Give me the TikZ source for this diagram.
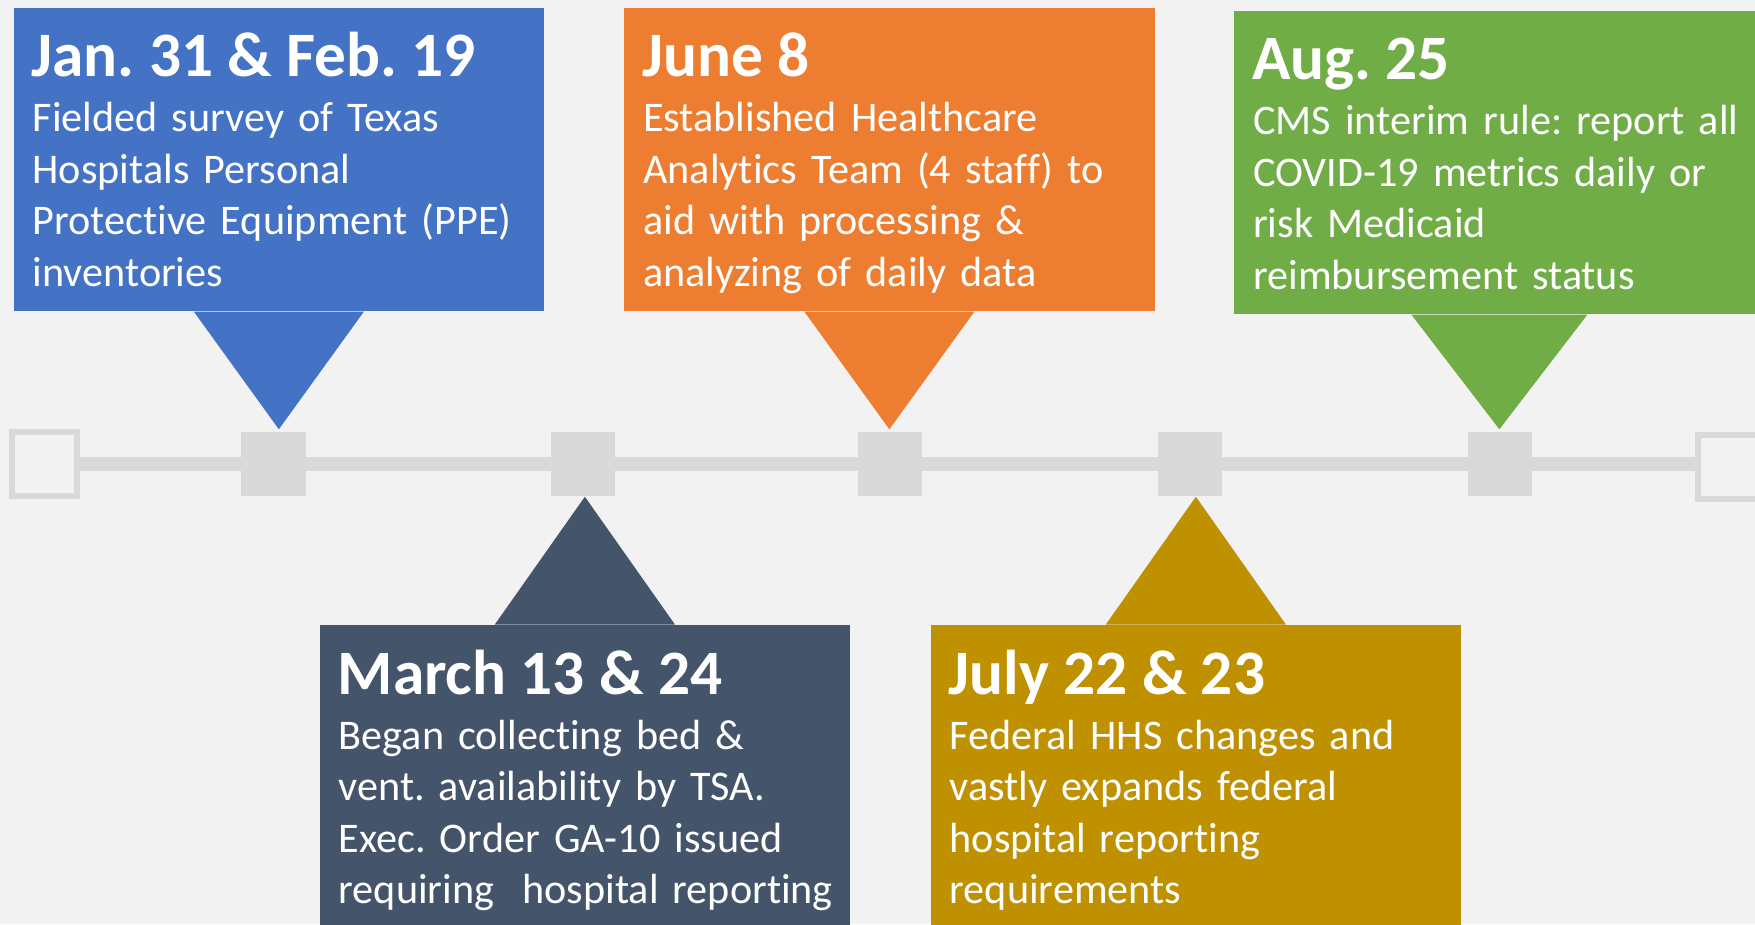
\documentclass[tikz,border=0pt]{standalone}
\usepackage{fontspec}
\setmainfont{Carlito}[Ligatures=NoCommon]
\usepackage{tikz}
\usetikzlibrary{calc}
\frenchspacing

\definecolor{bgray}{HTML}{F2F2F2}
\definecolor{tlgray}{HTML}{D9D9D9}
\definecolor{cblue}{HTML}{4472C4}
\definecolor{corange}{HTML}{ED7D31}
\definecolor{cgreen}{HTML}{70AD47}
\definecolor{cslate}{HTML}{44546A}
\definecolor{cgold}{HTML}{BF9000}

\newcommand{\descfont}{\fontsize{12}{14.65}\selectfont\fontdimen2\font=2.1pt\fontdimen3\font=0pt\fontdimen4\font=0pt}

\begin{document}
\begin{tikzpicture}[x=0.01cm, y=-0.01cm,
        callout/.style={rectangle, anchor=north west, inner sep=0, minimum width=5.3cm, minimum height=3.03cm},
        marker/.style={rectangle, fill=tlgray, inner sep=0, minimum size=0.64cm},
        endbox/.style={rectangle, draw=tlgray, line width=0.06cm, inner sep=0, minimum size=0.64cm},
        datelbl/.style={anchor=base west, inner sep=0, text=white, font=\fontsize{18}{22}\selectfont\bfseries},
        desc/.style={anchor=base west, inner sep=0, text=white, text width=5.1cm, align=left, font=\descfont}
    ]
        \useasboundingbox (0,0) rectangle (1755,924);
        \clip (0,0) rectangle (1755,924);
        \fill[bgray] (0,0) rectangle (1755,924);

        % timeline
        \node[endbox] (start) at (44.5,464) {};
        \node[endbox] (end) at (1730,467) {};
        \draw[tlgray, line width=0.14cm] (start.east) -- (start.east -| end.west);
        \node[marker] (m1) at (273.5,464) {};
        \node[marker] (m2) at (583,464) {};
        \node[marker] (m3) at (890,464) {};
        \node[marker] (m4) at (1190,464) {};
        \node[marker] (m5) at (1500,464) {};

        % callouts
        \node[callout, fill=cblue] (jan) at (13,7) {};
        \node[callout, fill=corange] (june) at (623.5,7) {};
        \node[callout, fill=cgreen] (aug) at (1233.5,10) {};
        \node[callout, fill=cslate] (march) at (319,624.5) {};
        \node[callout, fill=cgold] (july) at (930,624.5) {};

        \fill[cblue] ([xshift=-0.85cm]jan.south) -- ($(jan.south |- m1.north)+(0,-2)$) -- ([xshift=0.85cm]jan.south) -- cycle;
        \fill[corange] ([xshift=-0.85cm]june.south) -- ($(june.south |- m3.north)+(0,-2)$) -- ([xshift=0.85cm]june.south) -- cycle;
        \fill[cgreen] ([xshift=-0.88cm]aug.south) -- ($(aug.south |- m5.north)+(0,-2)$) -- ([xshift=0.88cm]aug.south) -- cycle;
        \fill[cslate] ([xshift=-0.9cm]march.north) -- (march.north |- m2.south) -- ([xshift=0.9cm]march.north) -- cycle;
        \fill[cgold] ([xshift=-0.9cm]july.north) -- (july.north |- m4.south) -- ([xshift=0.9cm]july.north) -- cycle;

        % texts
        \node[datelbl] (jant) at ([shift={(18,69.5)}]jan.north west) {Jan. 31 \& Feb. 19};
        \node[desc] (jand) at ([shift={(19,124.5)}]jan.north west) {Fielded survey of Texas\\Hospitals Personal\\Protective Equipment (PPE)\\inventories};
        \node[datelbl] (junet) at ([shift={(18,69.5)}]june.north west) {June 8};
        \node[desc] (juned) at ([shift={(19,124.5)}]june.north west) {Established Healthcare\\Analytics Team (4 staff) to\\aid with processing \&\\analyzing of daily data};
        \node[datelbl] (augt) at ([shift={(18,69.5)}]aug.north west) {Aug. 25};
        \node[desc] (augd) at ([shift={(19,124.5)}]aug.north west) {CMS interim rule: report all\\COVID-19 metrics daily or\\risk Medicaid\\reimbursement status};
        \node[datelbl] (marcht) at ([shift={(18,69.5)}]march.north west) {March 13 \& 24};
        \node[desc] (marchd) at ([shift={(19,124.5)}]march.north west) {Began collecting bed \&\\vent. availability by TSA.\\Exec. Order GA-10 issued\\requiring\ \ hospital reporting};
        \node[datelbl] (julyt) at ([shift={(18,69.5)}]july.north west) {July 22 \& 23};
        \node[desc] (julyd) at ([shift={(19,124.5)}]july.north west) {Federal HHS changes and\\vastly expands federal\\hospital reporting\\requirements};
    \end{tikzpicture}
\end{document}
